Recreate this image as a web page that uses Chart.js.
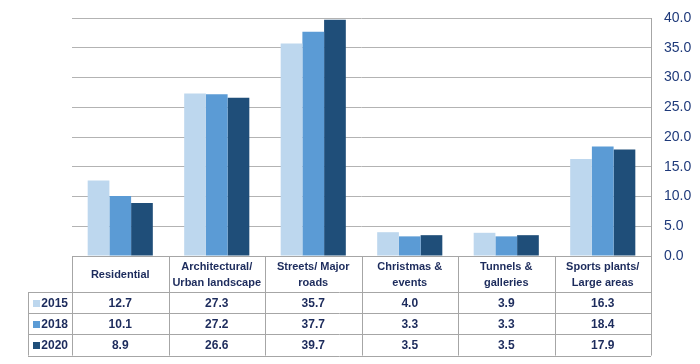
<!DOCTYPE html>
<html>
<head>
<meta charset="utf-8">
<script src="https://cdn.jsdelivr.net/npm/chart.js@4/dist/chart.umd.min.js"></script>
<style>
  html, body { margin: 0; padding: 0; background: #ffffff; }
  #wrap { width: 700px; height: 364px; position: relative; }
</style>
</head>
<body>
<div id="wrap"><canvas id="c" width="700" height="364"></canvas></div>
<script>
// ---- data ----
const categories = [
  ["Residential"],
  ["Architectural/", "Urban landscape"],
  ["Streets/ Major", "roads"],
  ["Christmas &", "events"],
  ["Tunnels &", "galleries"],
  ["Sports plants/", "Large areas"]
];
const years = ["2015", "2018", "2020"];
const values2015 = [12.7, 27.3, 35.7, 4.0, 3.9, 16.3];
const values2018 = [10.1, 27.2, 37.7, 3.3, 3.3, 18.4];
const values2020 = [8.9, 26.6, 39.7, 3.5, 3.5, 17.9];
const yMin = 0, yMax = 40, yStep = 5;

const seriesColors = ["#bdd7ee", "#5b9bd5", "#1f4e79"];
const seriesValues = [values2015, values2018, values2020];
const textColor = "#1c2b5c";
const borderColor = "#a6a6a6";

const tablePlugin = {
  id: 'dataTable',
  afterDraw(chart) {
    const ctx = chart.ctx;
    const xs = chart.scales.x;
    const area = chart.chartArea;
    const n = categories.length;
    const colW = (area.right - area.left) / n;
    const headerTop = area.bottom;
    const headerH = 36;
    const rowH = 21.2;
    const headerBottom = headerTop + headerH;
    const tableBottom = headerBottom + rowH * years.length;
    const leftX = 28;

    ctx.save();
    ctx.strokeStyle = borderColor;
    ctx.lineWidth = 1;
    ctx.beginPath();
    ctx.moveTo(area.left, Math.round(headerTop) + 0.5);
    ctx.lineTo(area.right, Math.round(headerTop) + 0.5);
    for (let r = 0; r <= years.length; r++) {
      const y = Math.round(headerBottom + r * rowH) + 0.5;
      ctx.moveTo(leftX, y);
      ctx.lineTo(area.right, y);
    }
    for (let i = 0; i <= n; i++) {
      const x = Math.round(area.left + i * colW) + 0.5;
      ctx.moveTo(x, headerTop);
      ctx.lineTo(x, tableBottom);
    }
    ctx.moveTo(leftX + 0.5, headerBottom);
    ctx.lineTo(leftX + 0.5, tableBottom);
    ctx.stroke();

    ctx.fillStyle = textColor;
    ctx.font = "bold 11px 'Liberation Sans', Arial, sans-serif";
    ctx.textAlign = "center";
    ctx.textBaseline = "middle";
    categories.forEach((lines, i) => {
      const cx = xs.getPixelForValue(i);
      const lh = 16;
      const cy = headerTop + headerH / 2;
      const start = cy - (lines.length - 1) * lh / 2;
      lines.forEach((t, k) => ctx.fillText(t, cx, start + k * lh + 1));
    });
    ctx.font = "bold 12px 'Liberation Sans', Arial, sans-serif";
    years.forEach((yr, r) => {
      const cy = headerBottom + rowH * r + rowH / 2 + 1;
      ctx.fillStyle = seriesColors[r];
      ctx.fillRect(33, Math.round(cy - 4), 7, 7);
      ctx.fillStyle = textColor;
      ctx.textAlign = "right";
      ctx.fillText(yr, area.left - 4, cy);
      ctx.textAlign = "center";
      seriesValues[r].forEach((v, i) => {
        ctx.fillText(v.toFixed(1), xs.getPixelForValue(i), cy);
      });
    });
    ctx.restore();
  }
};

new Chart(document.getElementById('c'), {
  type: 'bar',
  data: {
    labels: categories.map(l => l.join(' ')),
    datasets: years.map((yr, k) => ({
      label: yr,
      data: seriesValues[k],
      backgroundColor: seriesColors[k],
      borderWidth: 0,
      categoryPercentage: 0.675,
      barPercentage: 1.0
    }))
  },
  options: {
    responsive: false,
    animation: false,
    devicePixelRatio: 1,
    layout: { padding: { left: 72, top: 18, bottom: 108, right: 0 } },
    plugins: { legend: { display: false }, tooltip: { enabled: false } },
    scales: {
      x: {
        afterFit(scale) { scale.height = 0; },
        grid: { display: false },
        border: { display: true, color: borderColor },
        ticks: { display: false }
      },
      y: {
        position: 'right',
        min: yMin, max: yMax,
        afterFit(scale) { scale.width = 49; scale.paddingTop = 0; scale.paddingBottom = 0; },
        grid: { color: "#b3b3b3", drawTicks: false },
        border: { display: true, color: borderColor },
        ticks: {
          stepSize: yStep,
          padding: 13,
          color: "#1f3a7a",
          font: { family: "'Liberation Sans Narrow', 'Liberation Sans', Arial, sans-serif", size: 14 },
          callback: v => Number(v).toFixed(1)
        }
      }
    }
  },
  plugins: [tablePlugin]
});
</script>
</body>
</html>
